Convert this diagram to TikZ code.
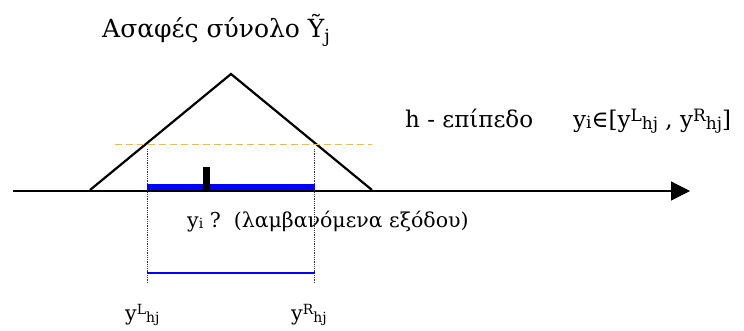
\documentclass[tikz,border=0pt]{standalone}
\usepackage{fontspec}
\setmainfont{DejaVu Serif}
\usetikzlibrary{arrows.meta}
\definecolor{dashorange}{RGB}{255,192,0}
\definecolor{barblue}{RGB}{0,0,255}
\tikzset{
  lbl/.style={anchor=base west, inner sep=0pt, font=\fontsize{23}{26}\selectfont},
  smalllbl/.style={anchor=base west, inner sep=0pt, font=\fontsize{20.5}{24}\selectfont},
  guide/.style={densely dotted, line width=0.8pt, black!80},
}
\newcommand{\scr}[2][14]{{\fontsize{#1}{16}\selectfont #2}}
\newcommand{\yLR}[2][14]{y\raisebox{0.5ex}{\scr[#1]{#2}}\raisebox{-0.2ex}{\scr[#1]{hj}}}
\begin{document}
\begin{tikzpicture}[x=1pt,y=-1pt]
\useasboundingbox (0,0) rectangle (744,330);
% axis
\coordinate (ax0) at (13,191);
\coordinate (ax1) at (690,191);
\draw[line width=1.2pt, -{Triangle[length=19pt,width=19pt]}] (ax0) -- (ax1);
% triangle
\coordinate (tl) at (90,190);
\coordinate (tt) at (231,74);
\coordinate (tr) at (372,190);
\draw[line width=2.2pt, line join=miter] (tl) -- (tt) -- (tr);
% h level
\coordinate (h0) at (115,144.5);
\coordinate (h1) at (372,144.5);
\draw[dashorange, line width=1.7pt, dash pattern=on 7pt off 4pt] (h0) -- (h1);
% dotted guides
\coordinate (gl0) at (147,149);
\coordinate (gl1) at (147,283);
\coordinate (gr0) at (314.5,149);
\coordinate (gr1) at (314.5,283);
\draw[guide] (gl0) -- (gl1);
\draw[guide] (gr0) -- (gr1);
% blue thick bar
\fill[barblue] (147,184) rectangle (314.5,190);
% tick
\fill[black] (203,167) rectangle (210,190);
% blue thin line
\coordinate (bl0) at (147,273);
\coordinate (bl1) at (314.5,273);
\draw[barblue, line width=1.6pt] (bl0) -- (bl1);
% labels
\node[lbl, font=\fontsize{25}{28}\selectfont] (title) at (102,37) {Ασαφές σύνολο Ỹ\raisebox{-0.4ex}{\fontsize{18}{20}\selectfont j}};
\node[lbl] (hlev) at (405,127) {h - επίπεδο};
\node[smalllbl, font=\fontsize{23}{26}\selectfont] (inter) at (573,127) {y\raisebox{-0.1ex}{\scr[17]{i}}∈[\yLR[17]{L} , \yLR[17]{R}]};
\node[smalllbl] (yiq) at (187,227) {y\raisebox{-0.1ex}{\scr{i}} ?\ \ (λαμβανόμενα εξόδου)};
\node[smalllbl] (yl) at (125,320) {\yLR{L}};
\node[smalllbl] (yr) at (291,320) {\yLR{R}};
\end{tikzpicture}
\end{document}
